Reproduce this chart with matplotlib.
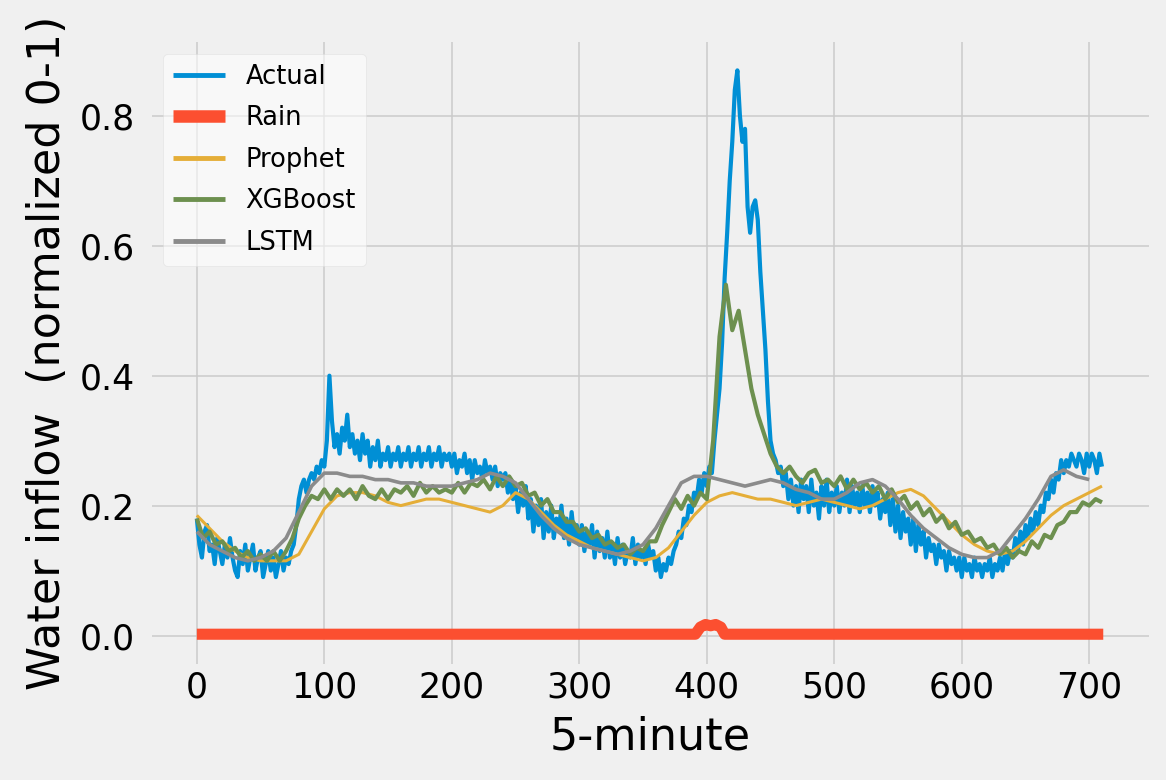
import numpy as np
import matplotlib
matplotlib.use("Agg")
import matplotlib.pyplot as plt

plt.style.use("fivethirtyeight")
plt.rcParams['font.family'] = ['DejaVu Sans']

# ---- data ----
actual_step = 2
actual = [
    0.18, 0.14, 0.12, 0.16, 0.17, 0.13, 0.14, 0.11, 0.15, 0.13,
    0.11, 0.14, 0.12, 0.15, 0.12, 0.10, 0.09, 0.13, 0.11, 0.14,
    0.10, 0.12, 0.14, 0.10, 0.12, 0.13, 0.09, 0.11, 0.13, 0.10,
    0.12, 0.09, 0.11, 0.13, 0.10, 0.12, 0.11, 0.13, 0.14, 0.17,
    0.21, 0.23, 0.24, 0.22, 0.24, 0.25, 0.24, 0.26, 0.25, 0.27,
    0.26, 0.30, 0.40, 0.33, 0.29, 0.31, 0.28, 0.32, 0.30, 0.34,
    0.29, 0.31, 0.28, 0.30, 0.27, 0.31, 0.28, 0.30, 0.26, 0.29,
    0.27, 0.30, 0.26, 0.28, 0.27, 0.29, 0.26, 0.28, 0.27, 0.29,
    0.26, 0.28, 0.27, 0.29, 0.26, 0.28, 0.27, 0.29, 0.26, 0.28,
    0.27, 0.29, 0.26, 0.28, 0.27, 0.29, 0.26, 0.28, 0.27, 0.28,
    0.26, 0.28, 0.25, 0.27, 0.26, 0.28, 0.25, 0.27, 0.24, 0.27,
    0.25, 0.26, 0.24, 0.27, 0.25, 0.26, 0.24, 0.26, 0.23, 0.25,
    0.24, 0.25, 0.22, 0.24, 0.21, 0.23, 0.19, 0.22, 0.20, 0.23,
    0.18, 0.21, 0.16, 0.20, 0.17, 0.21, 0.15, 0.19, 0.16, 0.20,
    0.15, 0.18, 0.16, 0.20, 0.15, 0.18, 0.14, 0.19, 0.15, 0.17,
    0.14, 0.17, 0.13, 0.16, 0.14, 0.17, 0.12, 0.16, 0.13, 0.15,
    0.12, 0.16, 0.12, 0.14, 0.11, 0.15, 0.12, 0.14, 0.11, 0.13,
    0.12, 0.15, 0.11, 0.14, 0.12, 0.13, 0.11, 0.14, 0.12, 0.13,
    0.10, 0.12, 0.09, 0.11, 0.10, 0.12, 0.11, 0.13, 0.14, 0.16,
    0.15, 0.18, 0.17, 0.20, 0.19, 0.22, 0.21, 0.24, 0.22, 0.25,
    0.23, 0.26, 0.25, 0.30, 0.34, 0.38, 0.45, 0.55, 0.62, 0.70,
    0.76, 0.84, 0.87, 0.80, 0.76, 0.78, 0.66, 0.62, 0.66, 0.67,
    0.64, 0.56, 0.50, 0.44, 0.36, 0.30, 0.28, 0.27, 0.25, 0.26,
    0.23, 0.25, 0.21, 0.24, 0.20, 0.23, 0.19, 0.24, 0.21, 0.23,
    0.19, 0.24, 0.20, 0.22, 0.18, 0.23, 0.20, 0.24, 0.19, 0.22,
    0.20, 0.23, 0.19, 0.22, 0.20, 0.24, 0.19, 0.23, 0.20, 0.22,
    0.19, 0.23, 0.20, 0.22, 0.19, 0.23, 0.20, 0.22, 0.18, 0.21,
    0.19, 0.22, 0.17, 0.21, 0.16, 0.20, 0.15, 0.19, 0.16, 0.18,
    0.14, 0.18, 0.13, 0.17, 0.14, 0.16, 0.12, 0.15, 0.13, 0.14,
    0.11, 0.14, 0.12, 0.13, 0.10, 0.13, 0.11, 0.12, 0.10, 0.12,
    0.09, 0.12, 0.10, 0.11, 0.09, 0.12, 0.10, 0.11, 0.09, 0.11,
    0.10, 0.12, 0.09, 0.11, 0.10, 0.12, 0.10, 0.13, 0.11, 0.13,
    0.12, 0.15, 0.13, 0.16, 0.14, 0.17, 0.15, 0.18, 0.16, 0.19,
    0.17, 0.20, 0.19, 0.22, 0.21, 0.24, 0.22, 0.25, 0.24, 0.27,
    0.25, 0.27, 0.26, 0.28, 0.27, 0.26, 0.28, 0.27, 0.25, 0.28,
    0.26, 0.28, 0.27, 0.25, 0.28, 0.26]

rain_x = [0, 391, 395, 399, 403, 407, 411, 414, 711]
rain = [0.002, 0.002, 0.013, 0.017, 0.015, 0.017, 0.013, 0.002, 0.002]

prophet_step = 10
prophet = [0.185, 0.165, 0.145, 0.13, 0.12, 0.115, 0.115, 0.115, 0.125, 0.16,
           0.195, 0.215, 0.22, 0.22, 0.215, 0.205, 0.20, 0.205, 0.21, 0.21,
           0.205, 0.20, 0.195, 0.19, 0.20, 0.22, 0.21, 0.19, 0.17, 0.155,
           0.145, 0.135, 0.13, 0.125, 0.12, 0.115, 0.12, 0.135, 0.16, 0.185,
           0.205, 0.215, 0.22, 0.215, 0.21, 0.21, 0.205, 0.20, 0.205, 0.21,
           0.205, 0.20, 0.195, 0.20, 0.21, 0.22, 0.225, 0.215, 0.195, 0.175,
           0.155, 0.14, 0.13, 0.125, 0.13, 0.145, 0.165, 0.185, 0.20, 0.21,
           0.22, 0.23]

xgb_step = 5
xgboost = [0.18, 0.15, 0.16, 0.14, 0.145, 0.13, 0.135, 0.12, 0.13, 0.115,
           0.125, 0.115, 0.13, 0.115, 0.13, 0.15, 0.18, 0.20, 0.215, 0.21,
           0.225, 0.21, 0.225, 0.215, 0.225, 0.21, 0.23, 0.215, 0.21, 0.225,
           0.21, 0.225, 0.22, 0.23, 0.215, 0.235, 0.22, 0.23, 0.22, 0.225,
           0.22, 0.235, 0.22, 0.235, 0.23, 0.24, 0.225, 0.245, 0.23, 0.245,
           0.23, 0.235, 0.215, 0.22, 0.20, 0.21, 0.19, 0.19, 0.175, 0.175,
           0.16, 0.165, 0.15, 0.155, 0.14, 0.145, 0.135, 0.14, 0.125, 0.135,
           0.13, 0.145, 0.145, 0.17, 0.19, 0.21, 0.195, 0.215, 0.20, 0.22,
           0.21, 0.30, 0.46, 0.54, 0.47, 0.50, 0.44, 0.38, 0.34, 0.31,
           0.28, 0.26, 0.25, 0.26, 0.245, 0.235, 0.25, 0.255, 0.235, 0.24,
           0.23, 0.245, 0.225, 0.24, 0.225, 0.235, 0.22, 0.23, 0.21, 0.225,
           0.205, 0.215, 0.195, 0.205, 0.185, 0.195, 0.175, 0.185, 0.165, 0.175,
           0.155, 0.16, 0.145, 0.15, 0.135, 0.14, 0.125, 0.135, 0.12, 0.13,
           0.125, 0.145, 0.135, 0.155, 0.15, 0.17, 0.175, 0.19, 0.19, 0.205,
           0.20, 0.21, 0.205]

lstm_step = 10
lstm = [0.16, 0.14, 0.13, 0.12, 0.115, 0.12, 0.13, 0.15, 0.19, 0.23,
        0.25, 0.25, 0.245, 0.245, 0.24, 0.24, 0.235, 0.235, 0.23, 0.23,
        0.23, 0.235, 0.24, 0.25, 0.245, 0.235, 0.21, 0.185, 0.165, 0.15,
        0.14, 0.135, 0.13, 0.125, 0.13, 0.14, 0.165, 0.20, 0.235, 0.245,
        0.245, 0.24, 0.235, 0.23, 0.235, 0.24, 0.235, 0.225, 0.22, 0.21,
        0.21, 0.22, 0.235, 0.24, 0.23, 0.21, 0.185, 0.165, 0.15, 0.135,
        0.125, 0.12, 0.12, 0.13, 0.155, 0.18, 0.21, 0.245, 0.255, 0.245,
        0.24]

xticks = [0, 100, 200, 300, 400, 500, 600, 700]
yticks = [0.0, 0.2, 0.4, 0.6, 0.8]

# ---- figure ----
fig = plt.figure(figsize=(11.66, 7.8), dpi=100, facecolor="#f0f0f0")
ax = fig.add_axes([0.130, 0.149, 0.855, 0.797])
ax.set_facecolor("#f0f0f0")

ax.plot(np.arange(len(actual)) * actual_step, actual, color="#008fd5",
        lw=3.0, label="Actual")
ax.plot(rain_x, rain, color="#fc4f30", lw=8, label="Rain")
ax.plot(np.arange(len(prophet)) * prophet_step, prophet, color="#e5ae38",
        lw=2.2, label="Prophet")
ax.plot(np.arange(len(xgboost)) * xgb_step, xgboost, color="#6d904f",
        lw=3.0, label="XGBoost")
ax.plot(np.arange(len(lstm)) * lstm_step, lstm, color="#8b8b8b",
        lw=2.6, label="LSTM")

ax.set_xticks(xticks)
ax.set_yticks(yticks)
ax.set_xlim(-35.5, 746.5)
ax.set_ylim(-0.0435, 0.9135)
ax.tick_params(axis="both", labelsize=25, length=0)
ax.tick_params(axis="y", pad=12)
ax.tick_params(axis="x", pad=5)
ax.grid(True, color="#cbcbcb", lw=1.1)
for s in ax.spines.values():
    s.set_visible(False)

ax.set_xlabel("5-minute", fontsize=32, labelpad=8)
ax.set_ylabel("Water inflow  (normalized 0-1)", fontsize=32, labelpad=8)

leg = ax.legend(loc="upper left", fontsize=18.5, frameon=True, fancybox=True,
                facecolor="white", framealpha=0.55, edgecolor="#d8d8d8",
                borderaxespad=0.45, handlelength=2.0, labelspacing=0.6,
                handletextpad=0.8)
for line in leg.get_lines():
    line.set_linewidth(3.5 if line.get_label() != "Rain" else 9)

fig.savefig("out.png", dpi=100, facecolor=fig.get_facecolor())
